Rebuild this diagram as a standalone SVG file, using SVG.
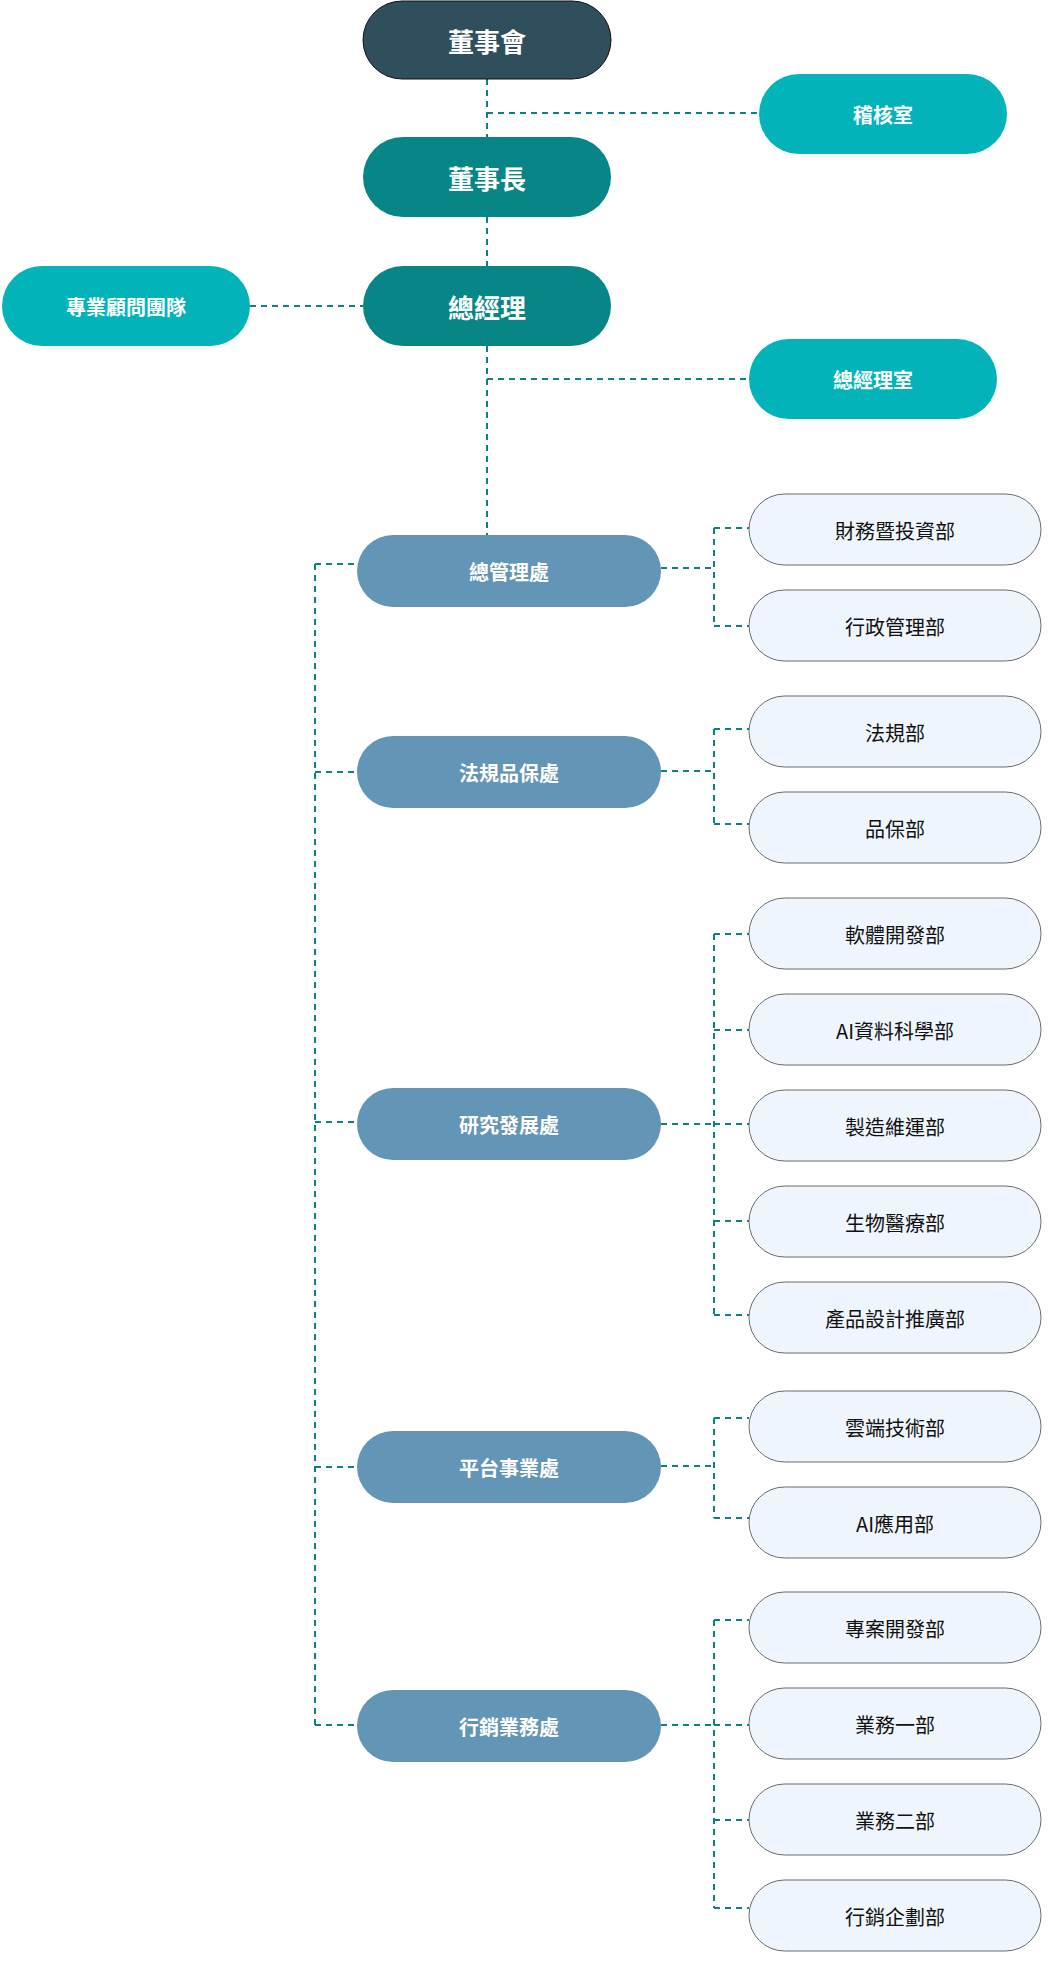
<svg xmlns="http://www.w3.org/2000/svg" width="1052" height="1972" viewBox="0 0 1052 1972">
<style>
text{font-family:"Noto Sans CJK TC","Noto Sans CJK SC",sans-serif;text-anchor:middle}
.c{fill:none;stroke:#0e8080;stroke-width:2;stroke-dasharray:6 5}
.board{fill:#2f4f5c;stroke:#111;stroke-width:1}
.exec{fill:#078587}
.aux{fill:#02b3b9}
.br{fill:#6395b6}
.dp{fill:#eff5fc;stroke:#6b6b6b;stroke-width:1}
.t1{fill:#fff;font-size:26px;font-weight:700}
.t2{fill:#fff;font-size:20px;font-weight:700}
.t3{fill:#111;font-size:20px}
</style>
<rect width="1052" height="1972" fill="#fff"/>
<g id="connectors">
<path class="c" d="M487 79V137M487 217V266M487 346V535"/>
<path class="c" d="M487 113H759"/>
<path class="c" d="M487 379H749"/>
<path class="c" d="M250 306H363"/>
<path class="c" d="M315 564V1725M315 564H357M315 772H357M315 1122H357M315 1467H357M315 1725H357"/>
<path class="c" d="M661 568H714M714 528V626M714 528H749M714 626H749"/>
<path class="c" d="M661 771H714M714 729V824M714 729H749M714 824H749"/>
<path class="c" d="M661 1124H714M714 934V1315M714 934H749M714 1030H749M714 1124H749M714 1221H749M714 1315H749"/>
<path class="c" d="M661 1466H714M714 1418V1518M714 1418H749M714 1518H749"/>
<path class="c" d="M661 1725H714M714 1620V1908M714 1620H749M714 1725H749M714 1820H749M714 1908H749"/>
</g>
<g id="n-board"><rect class="board" x="363" y="1" width="248" height="78" rx="39"/><text class="t1" x="487" y="52">董事會</text></g>
<g id="n-audit"><rect class="aux" x="759" y="74" width="248" height="80" rx="40"/><text class="t2" x="883" y="123">稽核室</text></g>
<g id="n-chair"><rect class="exec" x="363" y="137" width="248" height="80" rx="40"/><text class="t1" x="487" y="189">董事長</text></g>
<g id="n-gm"><rect class="exec" x="363" y="266" width="248" height="80" rx="40"/><text class="t1" x="487" y="318">總經理</text></g>
<g id="n-advisor"><rect class="aux" x="2" y="266" width="248" height="80" rx="40"/><text class="t2" x="126" y="315">專業顧問團隊</text></g>
<g id="n-gmo"><rect class="aux" x="749" y="339" width="248" height="80" rx="40"/><text class="t2" x="873" y="388">總經理室</text></g>

<g id="b-admin"><rect class="br" x="357" y="535" width="304" height="72" rx="36"/><text class="t2" x="509" y="580">總管理處</text></g>
<g id="b-legal"><rect class="br" x="357" y="736" width="304" height="72" rx="36"/><text class="t2" x="509" y="781">法規品保處</text></g>
<g id="b-rd"><rect class="br" x="357" y="1088" width="304" height="72" rx="36"/><text class="t2" x="509" y="1133">研究發展處</text></g>
<g id="b-platform"><rect class="br" x="357" y="1431" width="304" height="72" rx="36"/><text class="t2" x="509" y="1476">平台事業處</text></g>
<g id="b-sales"><rect class="br" x="357" y="1690" width="304" height="72" rx="36"/><text class="t2" x="509" y="1735">行銷業務處</text></g>

<g id="d1"><rect class="dp" x="749" y="494" width="292" height="71" rx="35.5"/><text class="t3" x="895" y="539">財務暨投資部</text></g>
<g id="d2"><rect class="dp" x="749" y="590" width="292" height="71" rx="35.5"/><text class="t3" x="895" y="635">行政管理部</text></g>
<g id="d3"><rect class="dp" x="749" y="696" width="292" height="71" rx="35.5"/><text class="t3" x="895" y="741">法規部</text></g>
<g id="d4"><rect class="dp" x="749" y="792" width="292" height="71" rx="35.5"/><text class="t3" x="895" y="837">品保部</text></g>
<g id="d5"><rect class="dp" x="749" y="898" width="292" height="71" rx="35.5"/><text class="t3" x="895" y="943">軟體開發部</text></g>
<g id="d6"><rect class="dp" x="749" y="994" width="292" height="71" rx="35.5"/><text class="t3" x="895" y="1039">AI資料科學部</text></g>
<g id="d7"><rect class="dp" x="749" y="1090" width="292" height="71" rx="35.5"/><text class="t3" x="895" y="1135">製造維運部</text></g>
<g id="d8"><rect class="dp" x="749" y="1186" width="292" height="71" rx="35.5"/><text class="t3" x="895" y="1231">生物醫療部</text></g>
<g id="d9"><rect class="dp" x="749" y="1282" width="292" height="71" rx="35.5"/><text class="t3" x="895" y="1327">產品設計推廣部</text></g>
<g id="d10"><rect class="dp" x="749" y="1391" width="292" height="71" rx="35.5"/><text class="t3" x="895" y="1436">雲端技術部</text></g>
<g id="d11"><rect class="dp" x="749" y="1487" width="292" height="71" rx="35.5"/><text class="t3" x="895" y="1532">AI應用部</text></g>
<g id="d12"><rect class="dp" x="749" y="1592" width="292" height="71" rx="35.5"/><text class="t3" x="895" y="1637">專案開發部</text></g>
<g id="d13"><rect class="dp" x="749" y="1688" width="292" height="71" rx="35.5"/><text class="t3" x="895" y="1733">業務一部</text></g>
<g id="d14"><rect class="dp" x="749" y="1784" width="292" height="71" rx="35.5"/><text class="t3" x="895" y="1829">業務二部</text></g>
<g id="d15"><rect class="dp" x="749" y="1880" width="292" height="71" rx="35.5"/><text class="t3" x="895" y="1925">行銷企劃部</text></g>
</svg>
